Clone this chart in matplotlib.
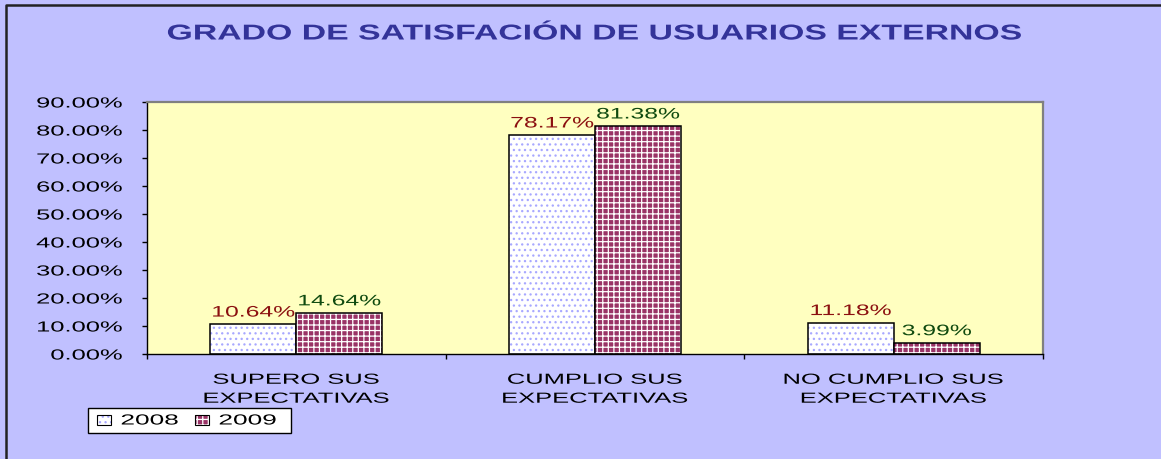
import numpy as np
import matplotlib
matplotlib.use("Agg")
from matplotlib import pyplot as plt
from matplotlib.patheffects import AbstractPathEffect
from matplotlib.transforms import Affine2D
from matplotlib.lines import Line2D
from matplotlib.patches import Rectangle

categories = ["SUPERO SUS\nEXPECTATIVAS", "CUMPLIO SUS\nEXPECTATIVAS", "NO CUMPLIO SUS\nEXPECTATIVAS"]
years = ["2008", "2009"]
values_2008 = [0.1064, 0.7817, 0.1118]
values_2009 = [0.1464, 0.8138, 0.0399]
y_ticks = [0.0, 0.1, 0.2, 0.3, 0.4, 0.5, 0.6, 0.7, 0.8, 0.9]
title = "GRADO DE SATISFACIÓN DE USUARIOS EXTERNOS"

W, H = 1161, 459
BG = "#C0C0FF"
PLOT_BG = "#FFFFC0"
DOT = "#A8A8FF"
MAROON = "#993366"


class StretchX(AbstractPathEffect):
    """Widen glyphs horizontally (the source chart is stretched sideways)."""

    def __init__(self, sx, anchor=0.5):
        super().__init__()
        self.sx = sx
        self.anchor = anchor

    def draw_path(self, renderer, gc, tpath, affine, rgbFace=None):
        ext = tpath.get_extents()
        cx = ext.x0 + self.anchor * (ext.x1 - ext.x0)
        st = Affine2D().translate(-cx, 0).scale(self.sx, 1).translate(cx, 0)
        renderer.draw_path(gc, tpath, st + affine, rgbFace)


def fx(px):
    return px / W


def fy(py):
    return 1 - py / H


plt.rcParams["font.family"] = ["Liberation Sans", "DejaVu Sans"]
plt.rcParams["hatch.linewidth"] = 0.9

fig = plt.figure(figsize=(W / 100, H / 100), dpi=100, facecolor=BG)
ax = fig.add_axes([fx(147), fy(354), fx(1043) - fx(147), fy(102) - fy(354)])
ax.set_facecolor(PLOT_BG)

x = np.arange(len(categories))
w = 0.288

# 2008: white with light blue dots
ax.bar(x - w / 2, values_2008, w, color="white", hatch="...", edgecolor=DOT, linewidth=0)
ax.bar(x - w / 2, values_2008, w, fill=False, edgecolor="black", linewidth=1.1)
# 2009: maroon checker
ax.bar(x + w / 2, values_2009, w, color=MAROON, hatch="+++", edgecolor="white", linewidth=0)
ax.bar(x + w / 2, values_2009, w, fill=False, edgecolor="black", linewidth=1.1)

for xi, v in zip(x, values_2008):
    t = ax.annotate(f"{v * 100:.2f}%", (xi - w / 2, v), xytext=(0, 5.5), textcoords="offset points",
                    ha="center", va="baseline", fontsize=11, color="#8B1010")
    t.set_path_effects([StretchX(1.62, 0.5)])
for xi, v in zip(x, values_2009):
    t = ax.annotate(f"{v * 100:.2f}%", (xi + w / 2, v), xytext=(0, 5.5), textcoords="offset points",
                    ha="center", va="baseline", fontsize=11, color="#0F4A0F")
    t.set_path_effects([StretchX(1.62, 0.5)])

ax.set_xlim(-0.5, len(categories) - 0.5)
ax.set_ylim(0, 0.9)
ax.set_yticks(y_ticks)
ax.set_yticklabels([f"{v * 100:.2f}%" for v in y_ticks])
ax.set_xticks(x)
ax.set_xticklabels(categories)
ax.set_xticks(np.arange(len(categories) + 1) - 0.5, minor=True)

ax.tick_params(axis="y", direction="out", length=3.6, width=1, pad=14, labelsize=10.5, colors="black")
ax.tick_params(axis="x", which="major", length=0, pad=13.5, labelsize=10.5)
ax.tick_params(axis="x", which="minor", direction="out", length=3.6, width=1)

for lab in ax.get_yticklabels():
    lab.set_path_effects([StretchX(1.75, 1.0)])
for lab in ax.get_xticklabels():
    lab.set_path_effects([StretchX(1.75, 0.5)])
    lab.set_linespacing(1.45)

for side in ["top", "right"]:
    ax.spines[side].set_color("#808080")
    ax.spines[side].set_linewidth(1.6)
for side in ["left", "bottom"]:
    ax.spines[side].set_color("black")
    ax.spines[side].set_linewidth(1.0)

# title
tt = fig.text(fx(593), fy(34), title, ha="center", va="center", fontsize=15.5,
              fontweight="bold", color="#333399")
tt.set_path_effects([StretchX(1.57, 0.5)])

# legend (built by hand so the stretched text fits in the frame)
fig.add_artist(Rectangle((fx(88), fy(433)), fx(291) - fx(88), fy(408) - fy(433),
                         transform=fig.transFigure, facecolor="white", edgecolor="black", linewidth=1))
swatches = [("white", "...", DOT, 97), (MAROON, "+++", "white", 195)]
text_x = [121, 219]
for (fc, hatch, hc, sx0), tx, label in zip(swatches, text_x, years):
    fig.add_artist(Rectangle((fx(sx0), fy(425)), fx(14), fy(415) - fy(425), transform=fig.transFigure,
                             facecolor=fc, hatch=hatch, edgecolor=hc, linewidth=0))
    fig.add_artist(Rectangle((fx(sx0), fy(425)), fx(14), fy(415) - fy(425), transform=fig.transFigure,
                             fill=False, edgecolor="black", linewidth=0.8))
    lt = fig.text(fx(tx), fy(420.5), label, ha="left", va="center", fontsize=10.5, color="black")
    lt.set_path_effects([StretchX(1.8, 0.0)])

# outer chart border (left and top edges visible)
fig.add_artist(Line2D([fx(6), fx(6), 1.0], [0.0, fy(5), fy(5)], transform=fig.transFigure,
                      color="#222222", linewidth=1.8))

fig.savefig("out.png", dpi=100, facecolor=BG)
